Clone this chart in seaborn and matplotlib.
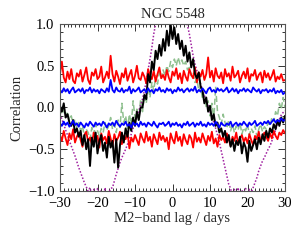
import numpy as np
import pandas as pd
import matplotlib
matplotlib.use("Agg")
import matplotlib.pyplot as plt
import seaborn as sns
from matplotlib.ticker import MultipleLocator

# lag grid (days), 0.5-day steps from -30 to 30
lag = np.linspace(-30, 30, 121)

# values in hundredths
red_upper = [
    40, 55, 36, 30, 43, 34, 46, 32, 29, 41, 37,
    45, 31, 39, 48, 33, 28, 42, 38, 46, 34, 37,
    49, 30, 36, 43, 35, 62, 40, 31, 44, 37, 28,
    41, 36, 47, 32, 39, 45, 30, 38, 50, 35, 33,
    42, 37, 29, 46, 38, 34, 44, 31, 40, 48, 35,
    39, 33, 45, 36, 30, 43, 38, 47, 34, 41, 29,
    44, 37, 32, 46, 39, 35, 48, 30, 42, 37, 45,
    33, 40, 60, 36, 44, 31, 47, 38, 35, 42, 29,
    46, 37, 41, 32, 49, 36, 39, 44, 30, 38, 43,
    35, 47, 31, 40, 38, 45, 33, 39, 42, 30, 44,
    36, 41, 33, 38, 45, 31, 37, 34, 40, 32, 33,
]
blue_upper = [
    21, 18, 23, 19, 22, 17, 21, 24, 18, 20, 22,
    19, 23, 17, 21, 20, 24, 18, 22, 19, 21, 17,
    22, 20, 18, 23, 19, 33, 21, 18, 24, 20, 19,
    23, 18, 21, 20, 25, 17, 22, 19, 21, 24, 18,
    20, 22, 18, 23, 19, 21, 17, 22, 20, 24, 19,
    21, 18, 23, 20, 22, 17, 21, 19, 24, 20, 22,
    18, 21, 23, 19, 22, 20, 25, 18, 21, 19, 23,
    20, 17, 22, 24, 19, 21, 18, 23, 20, 22, 19,
    21, 24, 18, 20, 23, 19, 22, 17, 21, 20, 23,
    19, 22, 20, 18, 24, 21, 19, 22, 17, 21, 20,
    22, 18, 21, 19, 23, 17, 20, 18, 21, 16, 18,
]
blue_lower = [
    -19, -22, -17, -21, -18, -23, -20, -16, -21, -19, -23,
    -18, -21, -24, -19, -22, -17, -20, -23, -18, -21, -19,
    -22, -17, -20, -24, -19, -21, -18, -22, -16, -20, -23,
    -19, -21, -17, -22, -20, -24, -18, -21, -19, -23, -17,
    -21, -19, -23, -18, -20, -22, -17, -21, -24, -19, -20,
    -18, -22, -20, -17, -23, -19, -21, -18, -22, -20, -24,
    -19, -21, -17, -22, -20, -18, -23, -19, -21, -17, -22,
    -20, -23, -18, -21, -19, -22, -17, -20, -24, -18, -21,
    -22, -19, -21, -17, -23, -20, -18, -22, -19, -21, -17,
    -20, -23, -18, -21, -19, -16, -22, -20, -18, -21, -17,
    -19, -16, -20, -17, -14, -18, -15, -17, -13, -16, -15,
]
red_lower = [
    -33, -40, -28, -37, -45, -31, -38, -26, -42, -35, -30,
    -39, -47, -33, -29, -41, -36, -44, -30, -38, -34, -48,
    -31, -39, -35, -43, -28, -37, -46, -32, -40, -36, -29,
    -44, -34, -38, -30, -49, -36, -41, -33, -39, -45, -31,
    -37, -42, -29, -40, -35, -47, -32, -38, -44, -30, -39,
    -34, -41, -36, -50, -31, -38, -43, -29, -40, -35, -46,
    -32, -39, -44, -33, -37, -48, -30, -41, -36, -42, -31,
    -38, -45, -34, -40, -29, -43, -37, -47, -33, -39, -35,
    -42, -31, -38, -46, -35, -40, -30, -44, -37, -33, -41,
    -36, -43, -32, -39, -45, -34, -38, -29, -41, -36, -30,
    -35, -40, -31, -37, -28, -34, -38, -30, -33, -27, -31,
]
ccf_black = [
    2, -5, 5, -12, -8, -18, -22, -15, -30, -25, -35,
    -28, -45, -33, -50, -38, -70, -36, -47, -30, -55, -40,
    -33, -52, -42, -60, -35, -48, -40, -66, -38, -72, -45,
    -30, -42, -25, -35, -18, -28, -12, -22, -5, -15, 0,
    0, 15, 10, 40, 30, 55, 45, 68, 58, 75, 62,
    82, 68, 92, 74, 100, 82, 96, 76, 88, 70, 80,
    62, 74, 55, 66, 48, 58, 40, 35, 42, 25, 20,
    5, 12, -5, 2, -15, -8, -22, -18, -30, -25, -35,
    -28, -42, -33, -47, -38, -52, -40, -45, -35, -55, -42,
    -48, -65, -40, -52, -45, -38, -50, -36, -44, -32, -40,
    -28, -36, -25, -30, -20, -26, -15, -22, -12, -18, -10,
]
ccf_green = [
    0, -8, -3, -12, -5, -15, -10, -20, -14, -25, -18,
    -28, -22, -35, -26, -30, -38, -24, -32, -20, -28, -34,
    -25, -30, -18, -27, -22, -12, -26, -20, -30, -15, -24,
    5, -18, -10, -25, -8, -20, 8, -12, -2, -15, 10,
    -5, 15, 5, 25, 12, 30, 20, 38, 28, 42, 35,
    45, 38, 50, 43, 55, 48, 58, 50, 60, 52, 57,
    50, 55, 45, 48, 38, 42, 30, 35, 20, 25, 10,
    15, 0, 8, -10, 5, -15, 25, -5, -12, -20, -8,
    -18, -25, -15, -28, -20, -30, -22, -27, -18, -32, -24,
    -28, -20, -33, -25, -30, -22, -35, -26, -20, -29, -23,
    -26, -18, -22, -12, -17, -5, -10, 5, -2, 12, 0,
]
acf_purple = [
    -8, -14, -20, -27, -33, -40, -46, -52, -58, -65, -72,
    -78, -84, -90, -95, -100, -96, -106, -98, -110, -97, -104,
    -99, -112, -96, -108, -102, -97, -96, -88, -80, -73, -66,
    -60, -55, -50, -44, -38, -32, -25, -18, -11, -4, 3,
    10, 20, 32, 45, 58, 72, 88, 100, 110, 116, 120,
    122, 125, 120, 124, 126, 122, 125, 120, 123, 121, 118,
    115, 108, 98, 88, 75, 62, 52, 44, 36, 28, 21,
    14, 8, 2, -5, -11, -18, -25, -33, -42, -52, -62,
    -72, -82, -92, -97, -108, -98, -112, -96, -110, -99, -104,
    -97, -114, -98, -102, -96, -90, -84, -76, -70, -64, -60,
    -55, -50, -46, -40, -33, -27, -20, -14, -9, -6, -4,
]

title = "NGC 5548"
xlabel = "M2\u2212band lag / days"
ylabel = "Correlation"

sns.set_style("ticks")
plt.rcParams["font.family"] = ["Liberation Serif", "DejaVu Serif"]
plt.rcParams["axes.unicode_minus"] = True

fig = plt.figure(figsize=(3.0, 2.4), dpi=100)
ax = fig.add_axes([0.2, 0.2042, 0.75, 0.6958])

def s(v):
    return np.asarray(v, dtype=float) / 100.0

sns.lineplot(x=lag, y=s(ccf_green), ax=ax, color="#8fc08f", lw=1.1,
             linestyle=(0, (4, 2)))
sns.lineplot(x=lag, y=s(acf_purple), ax=ax, color="#a020a0", lw=1.1,
             linestyle=(0, (1, 1.2)))
sns.lineplot(x=lag, y=s(red_upper), ax=ax, color="#ff0000", lw=1.3)
sns.lineplot(x=lag, y=s(red_lower), ax=ax, color="#ff0000", lw=1.3)
sns.lineplot(x=lag, y=s(ccf_black), ax=ax, color="black", lw=1.4)
sns.lineplot(x=lag, y=s(blue_upper), ax=ax, color="#0000ff", lw=1.3)
sns.lineplot(x=lag, y=s(blue_lower), ax=ax, color="#0000ff", lw=1.3)

ax.set_xlim(-30, 30)
ax.set_ylim(-1.0, 1.0)
ax.xaxis.set_major_locator(MultipleLocator(10))
ax.xaxis.set_minor_locator(MultipleLocator(1))
ax.yaxis.set_major_locator(MultipleLocator(0.5))
ax.yaxis.set_minor_locator(MultipleLocator(0.1))
ax.yaxis.set_major_formatter(matplotlib.ticker.FuncFormatter(
    lambda v, p: f"{v:.1f}".replace("-", "\u2212")))
ax.xaxis.set_major_formatter(matplotlib.ticker.FuncFormatter(
    lambda v, p: f"{v:.0f}".replace("-", "\u2212")))
ax.tick_params(which="both", direction="in", top=True, right=True,
               width=0.7, colors="#333333", labelcolor="black", labelsize=10.5)
ax.tick_params(which="major", length=5, pad=4)
ax.tick_params(which="minor", length=2.5)
for sp in ax.spines.values():
    sp.set_linewidth(0.8)
    sp.set_color("#555555")

ax.set_title(title, fontsize=10.5, pad=4)
ax.set_xlabel(xlabel, fontsize=10.5, labelpad=2)
ax.set_ylabel(ylabel, fontsize=10.5, labelpad=3)

fig.savefig("out.png", dpi=100)
